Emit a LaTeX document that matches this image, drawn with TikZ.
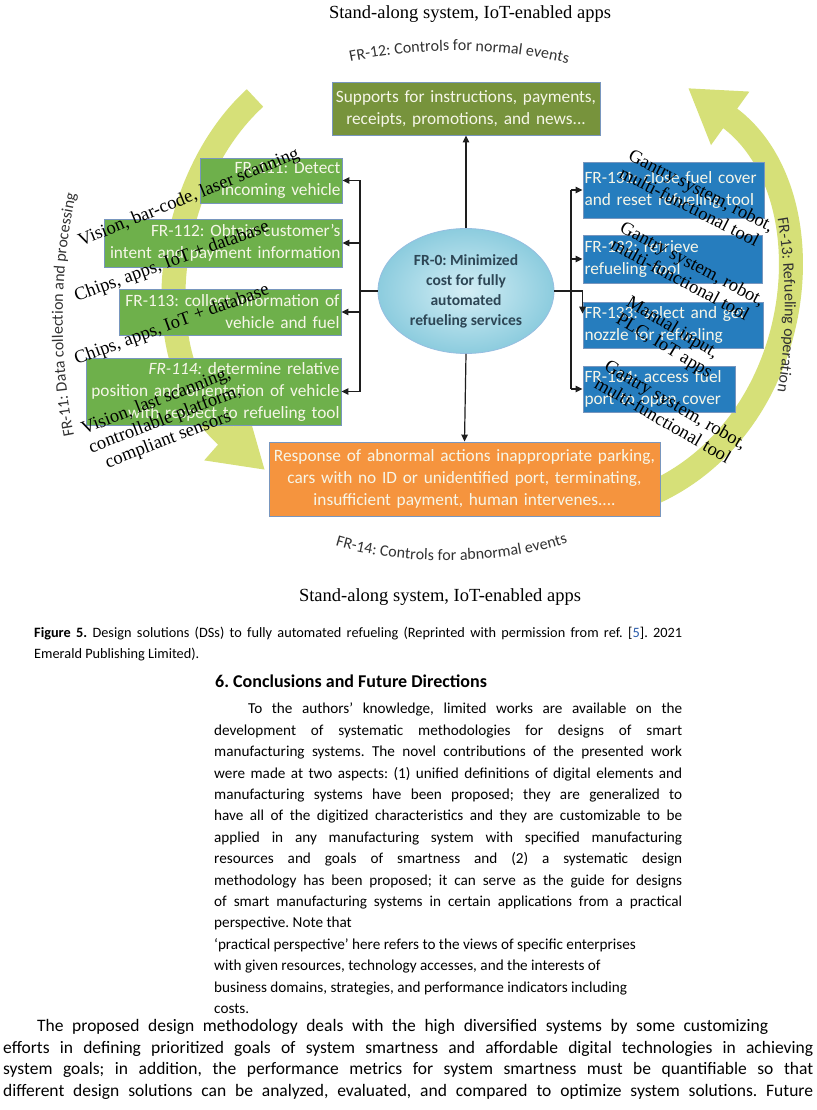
\documentclass[tikz,border=0pt]{standalone}
\usepackage{fontspec}
\setmainfont{Carlito}
\newfontfamily\timesfont{Liberation Serif}
\usetikzlibrary{shapes.geometric, arrows.meta, positioning, calc, decorations.text}
\setlength{\parindent}{0pt}
\frenchspacing
\definecolor{mygreen}{RGB}{110,176,75}
\definecolor{myolive}{RGB}{119,147,60}
\definecolor{myblue}{RGB}{38,125,190}
\definecolor{myorange}{RGB}{245,148,62}
\definecolor{myframe}{RGB}{120,150,190}
\definecolor{boxtext}{RGB}{246,246,232}
\definecolor{mylime}{RGB}{214,224,120}
\definecolor{ellin}{RGB}{212,238,245}
\definecolor{ellout}{RGB}{140,204,222}
\definecolor{ellline}{RGB}{150,190,225}
\definecolor{elltext}{RGB}{45,70,85}
\definecolor{mydark}{RGB}{30,30,30}
\definecolor{frgray}{RGB}{50,50,50}
\definecolor{reflink}{RGB}{40,90,170}
\newcommand{\boxfont}{\fontsize{17.3}{22}\selectfont}
\newcommand{\frfont}{\fontsize{16}{16}\selectfont}
\tikzset{
  greenbox/.style={rectangle, draw=myframe, fill=mygreen, text=boxtext,
    font=\boxfont, align=right, inner xsep=1.5pt, inner ysep=3pt, line width=0.9pt},
  olivebox/.style={rectangle, draw=myframe, fill=myolive, text=boxtext,
    font=\boxfont, align=center, inner xsep=1.5pt, inner ysep=3pt, line width=0.9pt},
  bluebox/.style={rectangle, draw=myframe, fill=myblue, text=boxtext,
    font=\boxfont, align=left, inner xsep=1.5pt, inner ysep=3pt, line width=0.9pt},
  orangebox/.style={rectangle, draw=myframe, fill=myorange, text=boxtext,
    font=\boxfont, align=center, inner xsep=1.5pt, inner ysep=3pt, line width=0.9pt},
  costnode/.style={ellipse, draw=ellline, inner color=ellin, outer color=ellout,
    minimum width=176pt, minimum height=125pt, inner sep=0pt, align=center,
    text=elltext, font=\bfseries\fontsize{15.5}{20}\selectfont, line width=0.8pt},
  techlabel/.style={font=\timesfont\fontsize{18.5}{20}\selectfont, inner sep=0pt, align=left},
  titletext/.style={font=\timesfont\fontsize{18.5}{22}\selectfont, inner sep=0pt},
  crescent/.style={line width=24pt, color=mylime, -{Triangle[length=52pt, width=62pt]}},
  arrow/.style={-{Triangle[length=7pt, width=6.5pt]}, line width=1.2pt, color=mydark},
  line/.style={line width=1.2pt, color=mydark},
  frlabel/.style={decorate, decoration={text along path, text align=center,
    text color=frgray, text={|\frfont|#1}}},
  bodytext/.style={font=\fontsize{15.2}{21.4}\selectfont, inner sep=0pt, anchor=north west}
}

\begin{document}
\begin{tikzpicture}[x=1pt, y=-1pt]
  \fill[white] (0,0) rectangle (816,1110);
  \useasboundingbox (0,0) rectangle (816,1110);

  % Curved arrows behind everything
  \draw[crescent] (255,98) .. controls (165,180) and (140,360) .. (265,470);
  \draw[crescent] (655,492) .. controls (810,420) and (830,190) .. (688,88);

  % Titles
  \node[titletext] (toptitle) at (470,14) {Stand-along system, IoT-enabled apps};
  \node[titletext] (bottitle) at (440,597) {Stand-along system, IoT-enabled apps};

  % FR labels on arcs
  \path[frlabel={FR-12: Controls for normal events}] (340,64) .. controls (420,46) and (500,46) .. (578,66);
  \path[frlabel={FR-14: Controls for abnormal events}] (333,545) .. controls (400,566) and (500,566) .. (570,542);
  \path[frlabel={FR-11: Data collection and processing}] (76,445) .. controls (58,360) and (58,270) .. (78,185);
  \path[frlabel={FR-13: Refueling operation}] (775,205) .. controls (788,270) and (788,340) .. (775,405);

  % Center requirement
  \node[costnode] (fr0) at (466,291) {FR-0: Minimized\\cost for fully\\automated\\refueling services};

  % Normal and abnormal events
  \node[olivebox, text width=265pt, minimum height=53pt] (sup) at (466,108.5)
    {Supports for instructions, payments,\\receipts, promotions, and news...};
  \node[orangebox, text width=388pt, minimum height=74pt] (abn) at (464.5,479)
    {Response of abnormal actions inappropriate parking,\\cars with no ID or unidentified port, terminating,\\insufficient payment, human intervenes....};

  % Data collection (left)
  \node[greenbox, text width=139pt, minimum height=45pt] (fr111) at (271,180.5)
    {FR-111: Detect\\incoming vehicle};
  \node[greenbox, text width=235pt, minimum height=48pt] (fr112) at (223,243)
    {FR-112: Obtain customer’s\\intent and payment information};
  \node[greenbox, text width=219pt, minimum height=46pt] (fr113) at (230,312)
    {FR-113: collect information of\\vehicle and fuel};
  \node[greenbox, text width=252pt, minimum height=67pt] (fr114) at (213.5,391.5)
    {\textit{FR-114:} determine relative\\position and orientation of vehicle\\with respect to refueling tool};

  % Refueling operation (right)
  \node[bluebox, text width=178pt, minimum height=56pt] (fr131) at (673.5,190)
    {FR-131: close fuel cover\\and reset refueling tool};
  \node[bluebox, text width=176pt, minimum height=48pt] (fr132) at (672.5,259)
    {FR-132: retrieve\\refueling tool};
  \node[bluebox, text width=177pt, minimum height=46pt] (fr133) at (673,325)
    {FR-133: select and get\\nozzle for refueling};
  \node[bluebox, text width=149pt, minimum height=46pt] (fr134) at (659,389)
    {FR-134: access fuel\\port to open cover};

  % Connectors
  \draw[arrow] (fr0.north) -- (sup.south);
  \draw[arrow] (fr0.south) -- (abn.north);
  \coordinate (lbus) at (360,291);
  \draw[line] (fr0.west) -- (lbus);
  \draw[line] (lbus |- fr111.east) -- (lbus |- fr114.east);
  \foreach \n in {fr111,fr112,fr113,fr114}
    \draw[arrow] (lbus |- \n.east) -- (\n.east);
  \coordinate (rbus) at (571,291);
  \draw[line] (rbus |- fr131.west) -- (rbus |- fr134.west);
  \foreach \n in {fr131,fr132,fr134}
    \draw[arrow] (rbus |- \n.west) -- (\n.west);
  \draw[arrow] (fr0.east) -| ([yshift=-12pt]fr133.north west);

  % Technology labels (left)
  \node[techlabel, rotate=22] (tvision) at (189,198) {Vision, bar-code, laser scanning};
  \node[techlabel, rotate=20] (tchipsa) at (172,262) {Chips, apps, IoT + database};
  \node[techlabel, rotate=20] (tchipsb) at (172,325) {Chips, apps, IoT + database};
  \node[techlabel, rotate=21] (tlast) at (165,420)
    {Vision, last scanning,\\controllable platform,\\\hspace*{10pt}compliant sensors};

  % Technology labels (right)
  \node[techlabel, rotate=-27] (tgantrya) at (697,199) {Gantry system, robot,\\multi-functional tool};
  \node[techlabel, rotate=-28] (tgantryb) at (688,272) {Gantry system, robot,\\multi-functional tool};
  \node[techlabel, rotate=-31] (tmanual) at (669,338) {Manual input,\\PLC, IoT apps};
  \node[techlabel, rotate=-30] (tgantryc) at (671,413) {Gantry system, robot,\\multi-functional tool};

  % Caption and text
  \node[bodytext, text width=648pt, align=justify, font=\fontsize{14.3}{21}\selectfont] (caption) at (34,627)
    {\textbf{Figure 5.} Design solutions (DSs) to fully automated refueling (Reprinted with permission from ref. [{\color{reflink}5}]. 2021\linebreak Emerald Publishing Limited).};
  \node[bodytext, font=\bfseries\fontsize{18}{20}\selectfont] (heading) at (215,675)
    {6. Conclusions and Future Directions};
  \node[bodytext, text width=468pt, align=justify] (para1) at (214,703)
    {\hspace*{34pt}To the authors’ knowledge, limited works are available on the\linebreak
     development of systematic methodologies for designs of smart\linebreak
     manufacturing systems. The novel contributions of the presented work\linebreak
     were made at two aspects: (1) unified definitions of digital elements and\linebreak
     manufacturing systems have been proposed; they are generalized to\linebreak
     have all of the digitized characteristics and they are customizable to be\linebreak
     applied in any manufacturing system with specified manufacturing\linebreak
     resources and goals of smartness and (2) a systematic design\linebreak
     methodology has been proposed; it can serve as the guide for designs\linebreak
     of smart manufacturing systems in certain applications from a practical\linebreak
     perspective. Note that\par\raggedright
     ‘practical perspective’ here refers to the views of specific enterprises\newline
     with given resources, technology accesses, and the interests of\newline
     business domains, strategies, and performance indicators including\newline
     costs.};
  \node[bodytext, text width=810pt, align=justify, font=\fontsize{17.5}{21.7}\selectfont] (para2) at (3,1019)
    {\parfillskip=0pt\hspace*{34pt}The proposed design methodology deals with the high diversified systems by some customizing\hspace*{45pt}\linebreak
     efforts in defining prioritized goals of system smartness and affordable digital technologies in achieving\linebreak
     system goals; in addition, the performance metrics for system smartness must be quantifiable so that\linebreak
     different design solutions can be analyzed, evaluated, and compared to optimize system solutions. Future\par};
\end{tikzpicture}
\end{document}
